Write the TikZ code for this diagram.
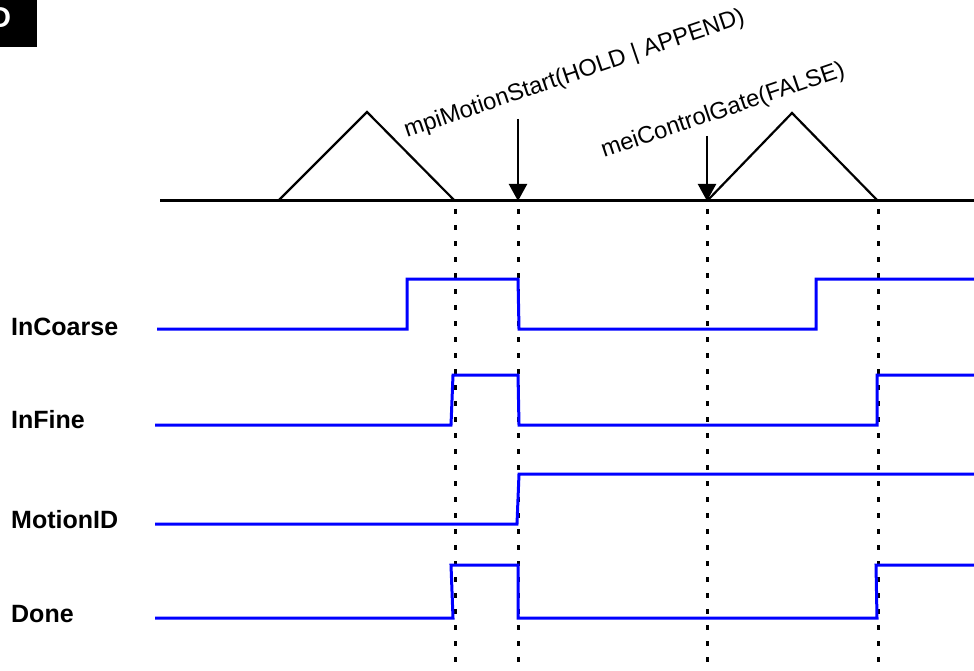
\documentclass[tikz,border=0pt]{standalone}
\usepackage{fontspec}
\setmainfont{Liberation Sans}
\usetikzlibrary{arrows.meta}
\begin{document}
\begin{tikzpicture}[x=1pt,y=-1pt,
  sig/.style={draw=blue,line width=3pt,line join=miter},
  axisline/.style={draw=black,line width=3pt},
  tri/.style={draw=black,line width=2.2pt,line join=miter},
  marker/.style={draw=black,line width=2.2pt,-{Triangle[width=18pt,length=17pt]}},
  guide/.style={draw=black,line width=3pt,dash pattern=on 5pt off 11pt,dash phase=-8pt},
  siglabel/.style={inner sep=0pt,anchor=base west,font=\bfseries\fontsize{25}{30}\selectfont},
  calllabel/.style={inner sep=0pt,anchor=base west,rotate=18.8,font=\fontsize{23.7}{28}\selectfont}]
\useasboundingbox (0,0) rectangle (974,671);
\clip (0,0) rectangle (974,671);
% corner tab
\fill[black] (-20,0) rectangle (37,47);
\node[inner sep=0pt,anchor=base west,text=white,font=\bfseries\fontsize{29}{30}\selectfont] (tab) at (-10,28) {D};
% time axis
\coordinate (axL) at (160,201);
\coordinate (axR) at (974,201);
\draw[axisline] (axL) -- (axR);
% triangles
\coordinate (t1a) at (278,201);
\coordinate (t1b) at (367,112);
\coordinate (t1c) at (455,201);
\coordinate (t2a) at (707,201);
\coordinate (t2b) at (792,113);
\coordinate (t2c) at (878,201);
\draw[tri] (t1a) -- (t1b) -- (t1c);
\draw[tri] (t2a) -- (t2b) -- (t2c);
% guides
\coordinate (g1t) at (455,201); \coordinate (g1b) at (455,671);
\coordinate (g2t) at (518,201); \coordinate (g2b) at (518,671);
\coordinate (g3t) at (707,201); \coordinate (g3b) at (707,671);
\coordinate (g4t) at (878,201); \coordinate (g4b) at (878,671);
\draw[guide] (g1t) -- (g1b);
\draw[guide] (g2t) -- (g2b);
\draw[guide] (g3t) -- (g3b);
\draw[guide] (g4t) -- (g4b);
% call markers
\coordinate (m1s) at (518,119); \coordinate (m1e) at (518,201);
\coordinate (m2s) at (707,136); \coordinate (m2e) at (707,201);
\draw[marker] (m1s) -- (m1e);
\draw[marker] (m2s) -- (m2e);
\node[calllabel] (call1) at (407,138) {mpiMotionStart(HOLD | APPEND)};
\node[calllabel] (call2) at (604,158) {meiControlGate(FALSE)};
% signal labels
\node[siglabel] (lInCoarse) at (11,335) {InCoarse};
\node[siglabel] (lInFine) at (11,428) {InFine};
\node[siglabel] (lMotionID) at (11,528) {MotionID};
\node[siglabel] (lDone) at (11,622) {Done};
% waveforms
\draw[sig] (157,329) -- (407,329) -- (407,279) -- (518,279) -- (519,329) -- (816,329) -- (816,279) -- (974,279);
\draw[sig] (155,425) -- (451,425) -- (453,375) -- (518,375) -- (519,425) -- (877,425) -- (877,375) -- (974,375);
\draw[sig] (155,524) -- (517,524) -- (519,474) -- (974,474);
\draw[sig] (155,618) -- (453,618) -- (451,565) -- (518,565) -- (518,618) -- (877,618) -- (876,565) -- (974,565);
\end{tikzpicture}
\end{document}
